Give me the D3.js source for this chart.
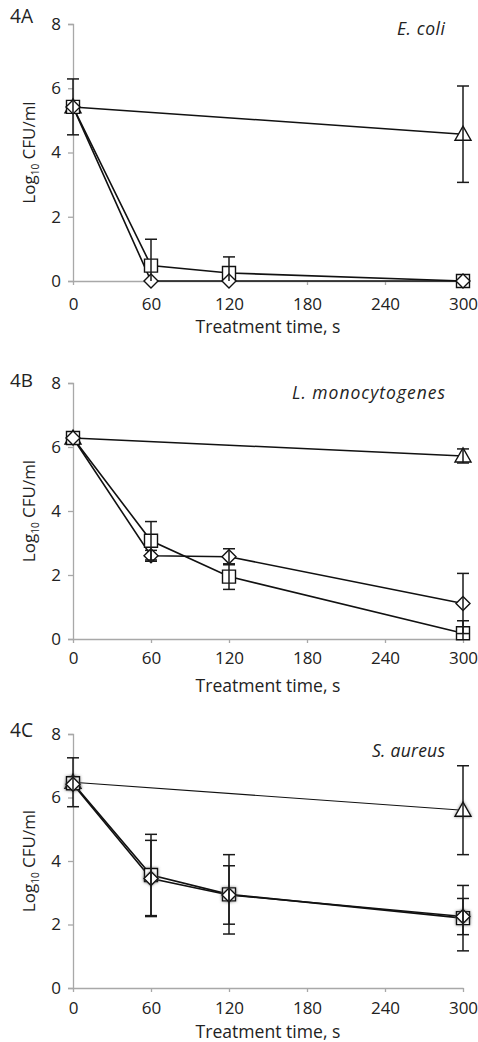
<!DOCTYPE html>
<html><head><meta charset="utf-8">
<script src="https://cdn.jsdelivr.net/npm/d3@7"></script>
<style>
body{margin:0;background:#fff}
svg{display:block}
text{font-family:"Open Sans",Lato,sans-serif;fill:#222}
</style>
</head><body>
<script>
// ---------- data ----------
const times = [0, 60, 120, 300];
const xTicks = [0, 60, 120, 180, 240, 300];
const yTicks = [0, 2, 4, 6, 8];
const panelIds = ["4A", "4B", "4C"];
const speciesNames = ["E. coli", "L. monocytogenes", "S. aureus"];
const xTitle = "Treatment time, s";

// E. coli
const ecoliTriangle = [5.42, null, null, 4.57];
const ecoliTriangleErr = [0.87, null, null, 1.5];
const ecoliSquare = [5.42, 0.48, 0.25, 0];
const ecoliSquareErr = [0, 0.82, 0.5, 0];
const ecoliDiamond = [5.42, 0, 0, 0];
const ecoliDiamondErr = [0, 0, 0, 0];

// L. monocytogenes
const listeriaTriangle = [6.28, null, null, 5.72];
const listeriaTriangleErr = [0, null, null, 0.22];
const listeriaSquare = [6.28, 3.07, 1.95, 0.18];
const listeriaSquareErr = [0, 0.6, 0.4, 0.39];
const listeriaDiamond = [6.28, 2.6, 2.57, 1.11];
const listeriaDiamondErr = [0, 0.17, 0.25, 0.94];

// S. aureus
const aureusTriangle = [6.48, null, null, 5.6];
const aureusTriangleErr = [0.77, null, null, 1.4];
const aureusSquare = [6.45, 3.56, 2.95, 2.2];
const aureusSquareErr = [0, 1.28, 1.25, 1.03];
const aureusDiamond = [6.42, 3.45, 2.93, 2.25];
const aureusDiamondErr = [0, 1.2, 0.92, 0.57];

// ---------- assembly ----------
const panelData = [
  {tri: ecoliTriangle, triE: ecoliTriangleErr, sq: ecoliSquare, sqE: ecoliSquareErr, di: ecoliDiamond, diE: ecoliDiamondErr},
  {tri: listeriaTriangle, triE: listeriaTriangleErr, sq: listeriaSquare, sqE: listeriaSquareErr, di: listeriaDiamond, diE: listeriaDiamondErr},
  {tri: aureusTriangle, triE: aureusTriangleErr, sq: aureusSquare, sqE: aureusSquareErr, di: aureusDiamond, diE: aureusDiamondErr}
];
// layout (pixels)
const layout = [
  {top: 24, bottom: 281, tickDy: 23, titleDy: 52, idDy: -1, spDy: 11, spW: 48, shadow: false, triW: 1.5},
  {top: 383, bottom: 639, tickDy: 19, titleDy: 53, idDy: 4, spDy: 16, spW: 153, shadow: false, triW: 1.5},
  {top: 734, bottom: 988, tickDy: 20, titleDy: 50, idDy: 3, spDy: 23, spW: 73, shadow: true, triW: 1.1}
];

// scale a text's font so that it spans a target width
function fit(sel, target) {
  const n = sel.node();
  const fs = parseFloat(sel.style("font-size"));
  const w = n.getComputedTextLength();
  if (w > 0) sel.style("font-size", (fs * target / w).toFixed(2) + "px");
  return sel;
}

const W = 478, H = 1042;
const svg = d3.select("body").append("svg").attr("width", W).attr("height", H);
const defs = svg.append("defs");
const f = defs.append("filter").attr("id", "sh").attr("x", "-50%").attr("y", "-50%").attr("width", "200%").attr("height", "200%");
f.append("feDropShadow").attr("dx", 0).attr("dy", 0).attr("stdDeviation", 1.6)
  .attr("flood-color", "#555").attr("flood-opacity", 0.7);

const x = d3.scaleLinear().domain([0, 300]).range([73, 463]);
const shapes = {
  sq: "M-6.5,-6.5H6.5V6.5H-6.5Z",
  di: "M0,-7L7,0L0,7L-7,0Z",
  tri: "M0,-8L8,6H-8Z"
};
const axisColor = "#a8a8a8";

panelData.forEach((pd, i) => {
  const L = layout[i];
  const y = d3.scaleLinear().domain([0, 8]).range([L.bottom, L.top]);
  const g = svg.append("g");

  // y axis
  const ya = g.append("g").attr("transform", `translate(${x(0)},0)`)
    .call(d3.axisLeft(y).tickValues(yTicks).tickSize(5).tickPadding(7).tickFormat(d3.format("d")));
  ya.select(".domain").attr("stroke", axisColor).attr("stroke-width", 1.3);
  ya.selectAll(".tick line").attr("stroke", axisColor).attr("stroke-width", 1.3);
  ya.selectAll(".tick text").style("font-size", "17px").attr("fill", "#222");

  // x axis
  const xa = g.append("g").attr("transform", `translate(0,${y(0)})`)
    .call(d3.axisBottom(x).tickValues(xTicks).tickSize(4).tickSizeOuter(0).tickPadding(0).tickFormat(d3.format("d")));
  xa.select(".domain").attr("stroke", axisColor).attr("stroke-width", 1.3);
  xa.selectAll(".tick line").attr("stroke", axisColor).attr("stroke-width", 1.3);
  xa.selectAll(".tick text").style("font-size", "17px").attr("fill", "#222")
    .attr("y", L.tickDy).attr("dy", "0.35em");

  // x title
  fit(g.append("text").attr("x", (x(0) + x(300)) / 2).attr("y", y(0) + L.titleDy)
    .attr("text-anchor", "middle").style("font-size", "16px").text(xTitle), 145);

  // y title
  const yt = g.append("text")
    .attr("transform", `translate(35,${(y(0) + y(8)) / 2}) rotate(-90)`)
    .attr("text-anchor", "middle").style("font-size", "17px");
  yt.append("tspan").text("Log");
  yt.append("tspan").text("10").style("font-size", "10px").attr("dy", 4);
  yt.append("tspan").text(" CFU/ml").attr("dy", -4);

  // panel id
  fit(g.append("text").attr("x", 10).attr("y", y(8) + L.idDy).style("font-size", "16px").text(panelIds[i]), 23);
  // species
  g.append("text").attr("x", 445).attr("y", y(8) + L.spDy)
    .attr("text-anchor", "end").style("font-size", "17.5px").style("font-style", "italic")
    .attr("fill", "#2a2a2a")
    .attr("textLength", L.spW).attr("lengthAdjust", "spacing")
    .text(speciesNames[i]);

  const line = d3.line().x(d => x(d.t)).y(d => y(d.v));
  const series = [
    {key: "tri", vals: pd.tri, errs: pd.triE, w: L.triW},
    {key: "sq", vals: pd.sq, errs: pd.sqE, w: 1.6},
    {key: "di", vals: pd.di, errs: pd.diE, w: 1.6}
  ].map(s => ({...s, pts: times.map((t, j) => ({t, v: s.vals[j], e: s.errs[j]})).filter(p => p.v != null)}));

  // lines
  series.forEach(s => {
    g.append("path").datum(s.pts).attr("d", line).attr("fill", "none")
      .attr("stroke", "#111").attr("stroke-width", s.w);
  });
  // markers
  series.forEach(s => {
    g.selectAll(null).data(s.pts).join("path")
      .attr("d", shapes[s.key])
      .attr("transform", d => `translate(${x(d.t)},${y(d.v)})`)
      .attr("fill", "#fff").attr("stroke", "#111").attr("stroke-width", 1.4)
      .attr("filter", L.shadow ? "url(#sh)" : null);
  });
  // error bars
  series.forEach(s => {
    const eb = s.pts.filter(p => p.e > 0);
    const gg = g.append("g").attr("stroke", "#1a1a1a").attr("stroke-width", 1.5);
    eb.forEach(p => {
      const hi = y(p.v + p.e), lo = y(Math.max(0, p.v - p.e)), cx = x(p.t);
      gg.append("line").attr("x1", cx).attr("x2", cx).attr("y1", hi).attr("y2", lo);
      gg.append("line").attr("x1", cx - 6).attr("x2", cx + 6).attr("y1", hi).attr("y2", hi);
      if (p.v - p.e > 0) gg.append("line").attr("x1", cx - 6).attr("x2", cx + 6).attr("y1", lo).attr("y2", lo);
    });
  });
});
</script>
</body></html>
